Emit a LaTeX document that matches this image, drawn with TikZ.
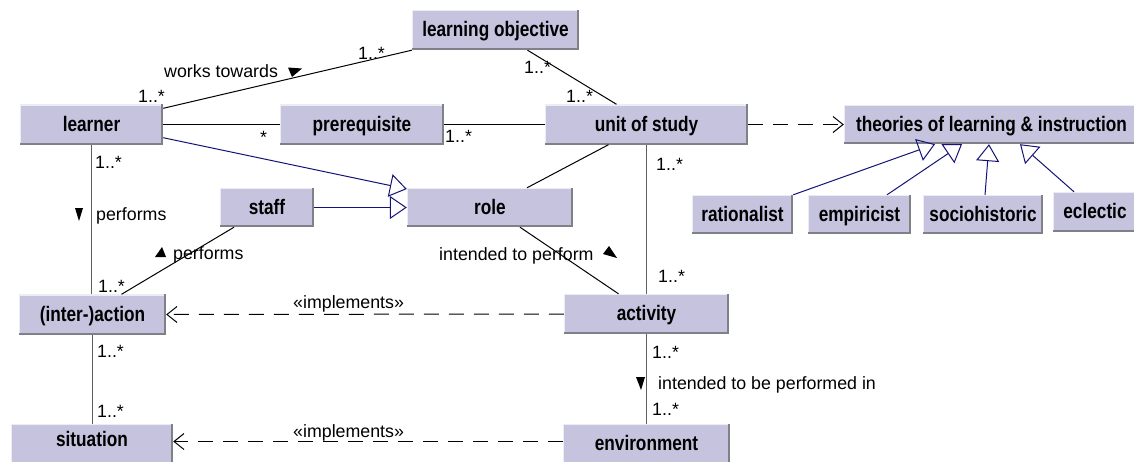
\documentclass[tikz,border=0pt]{standalone}
\usepackage{fontspec}
\setmainfont{Liberation Sans}
\newfontfamily\boxfont[FakeStretch=0.82]{Liberation Sans}
\usetikzlibrary{arrows.meta}
\definecolor{boxfill}{RGB}{197,195,222}
\definecolor{edgelight}{RGB}{236,236,244}
\definecolor{edgedark}{RGB}{128,128,136}
\definecolor{genblue}{RGB}{20,20,120}
\definecolor{assocgray}{RGB}{95,95,95}

\begin{document}
\begin{tikzpicture}[x=1pt,y=-1pt,
  cls/.style={rectangle, fill=boxfill, inner sep=0pt, minimum height=40pt,
    text height=13pt, text depth=0pt,
    font=\boxfont\bfseries\fontsize{21}{21}\selectfont},
  lbl/.style={anchor=base west, inner sep=0pt, font=\fontsize{17.8}{20}\selectfont},
  assoc/.style={draw=black, line width=1pt},
  vassoc/.style={draw=assocgray, line width=1pt},
  gen/.style={draw=genblue, line width=1pt, -{Triangle[open, length=17pt, width=23pt]}},
  dep/.style={draw=black, line width=1pt, dash pattern=on 15pt off 10pt,
    -{Straight Barb[length=10pt, width=16pt]}},
  dirmark/.style={fill=black}]

\useasboundingbox (0,0) rectangle (1134,461);
\fill[white] (0,0) rectangle (1134,461);
\clip (0,0) rectangle (1134,461);

% classes
\node[cls, minimum width=143pt] (learner)     at (91.5,124.5) {learner};
\node[cls, minimum width=164pt] (prereq)      at (362,124.5)  {prerequisite};
\node[cls, minimum width=167pt] (objective)   at (495.5,30)   {learning objective};
\node[cls, minimum width=203pt] (unit)        at (646.5,124.5){unit of study};
\node[cls, minimum width=295pt, minimum height=39pt] (theories) at (991.5,124.5) {theories of learning \& instruction};
\node[cls, minimum width=101pt, minimum height=39pt] (rationalist)   at (742.5,214.5) {rationalist};
\node[cls, minimum width=103pt, minimum height=39pt] (empiricist)    at (859.5,214.5) {empiricist};
\node[cls, minimum width=120pt, minimum height=39pt] (sociohistoric) at (983,214.5)   {sociohistoric};
\node[cls, minimum width=84pt]  (eclectic)    at (1095,212)   {eclectic};
\node[cls, minimum width=94pt, minimum height=39pt] (staff) at (267,207.5) {staff};
\node[cls, minimum width=166pt, minimum height=39pt] (role) at (490,207.5) {role};
\node[cls, minimum width=147pt] (action)      at (92.5,314.5) {(inter-)action};
\node[cls, minimum width=165pt] (activity)    at (646.5,314)  {activity};
\node[cls, minimum width=162pt, text depth=9pt] (situation) at (92,444) {situation};
\node[cls, minimum width=167pt] (environment) at (646.5,444)  {environment};

% raised bevel on every class box
\foreach \n in {learner,prereq,objective,unit,theories,rationalist,empiricist,
    sociohistoric,eclectic,staff,role,action,activity,situation,environment}{
  \draw[edgelight, line width=1.5pt]
    ([xshift=0.75pt]\n.south west) -- ([xshift=0.75pt,yshift=-0.75pt]\n.north west)
    -- ([yshift=-0.75pt]\n.north east);
  \draw[edgedark, line width=2pt]
    ([yshift=1pt]\n.south west) -- ([xshift=-1pt,yshift=1pt]\n.south east)
    -- ([xshift=-1pt]\n.north east);
}

% associations
\draw[assoc] ([yshift=-4pt]learner.north east) -- (objective.south west);
\draw[assoc] ([xshift=32pt]objective.south) -- ([xshift=-30pt]unit.north);
\draw[assoc] (learner.east) -- (prereq.west);
\draw[assoc] (prereq.east) -- (unit.west);
\draw[assoc] ([xshift=-38pt]unit.south) -- ([xshift=37pt]role.north);
\draw[vassoc] (unit.south) -- (activity.north);
\draw[assoc] ([xshift=30pt]role.south) -- ([xshift=-28pt]activity.north);
\draw[vassoc] (learner.south) -- (learner.south |- action.north);
\draw[assoc] ([xshift=-33pt]staff.south) -- ([xshift=29pt]action.north);
\draw[vassoc] (action.south) -- (action.south |- situation.north);
\draw[vassoc] (activity.south) -- (environment.north);

% generalizations
\draw[gen] ([yshift=7pt]learner.south east) -- ([yshift=18.5pt]role.west);
\draw[gen] (staff.east) -- (role.west);
\draw[gen] (rationalist.north east) -- ([xshift=-56.5pt]theories.south);
\draw[gen] ([xshift=27.5pt]empiricist.north) -- ([xshift=-29.5pt]theories.south);
\draw[gen] ([xshift=2pt]sociohistoric.north) -- ([xshift=-2.5pt]theories.south);
\draw[gen] ([xshift=-21pt]eclectic.north) -- ([xshift=28.5pt]theories.south);

% dependencies
\draw[dep] (unit.east) -- (theories.west);
\draw[dep] (activity.west) -- (action.east);
\draw[dep] ([yshift=2.5pt]environment.west) -- ([yshift=2.5pt]situation.east);

% multiplicities
\node[lbl] (m1)  at (138,102) {1..*};
\node[lbl] (m2)  at (358,59)  {1..*};
\node[lbl] (m3)  at (524,73)  {1..*};
\node[lbl] (m4)  at (566,102) {1..*};
\node[lbl] (m5)  at (260,143) {*};
\node[lbl] (m6)  at (445,142) {1..*};
\node[lbl] (m7)  at (656,170) {1..*};
\node[lbl] (m8)  at (658,282) {1..*};
\node[lbl] (m9)  at (95,168)  {1..*};
\node[lbl] (m10) at (98,292)  {1..*};
\node[lbl] (m11) at (97,357)  {1..*};
\node[lbl] (m12) at (97,417)  {1..*};
\node[lbl] (m13) at (652,358) {1..*};
\node[lbl] (m14) at (652,415) {1..*};

% association names
\node[lbl] (works)    at (164,77)  {works towards};
\node[lbl] (perf1)    at (96,220)  {performs};
\node[lbl] (perf2)    at (173,259) {performs};
\node[lbl] (intend)   at (439,260) {intended to perform};
\node[lbl] (impl1)    at (293,308) {«implements»};
\node[lbl] (impl2)    at (293,437) {«implements»};
\node[lbl] (intendin) at (658,389) {intended to be performed in};

% reading-direction markers
\fill[dirmark] (288,67.5) -- (302,68.5) -- (292,77) -- cycle;
\fill[dirmark] (75,208) -- (83,208) -- (79,221) -- cycle;
\fill[dirmark] (155,257) -- (166,257) -- (162,247) -- cycle;
\fill[dirmark] (603,254) -- (609,246) -- (617,258) -- cycle;
\fill[dirmark] (636,377) -- (645,377) -- (641,390) -- cycle;
\end{tikzpicture}
\end{document}
